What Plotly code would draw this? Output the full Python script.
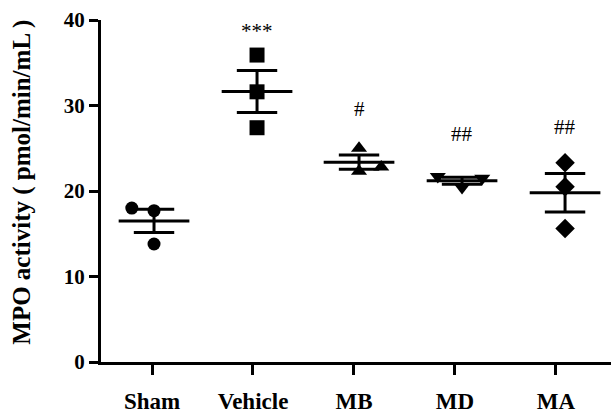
import numpy as np
import plotly.graph_objects as go

# ---- data ----
categories = ["Sham", "Vehicle", "MB", "MD", "MA"]
sham = [18.0, 17.7, 13.8]
vehicle = [35.9, 31.6, 27.4]
mb = [25.0, 22.8, 22.3]
md = [21.7, 20.4, 21.5]
ma = [23.3, 20.5, 15.6]
groups = [sham, vehicle, mb, md, ma]

# horizontal scatter of points within each group (category units)
jitter = [[-0.22, 0.0, 0.0], [0.0, 0.0, 0.0], [0.0, 0.22, 0.0], [-0.24, 0.0, 0.2], [0.0, 0.0, 0.0]]
group_shift = [0.02, 0.04, 0.05, 0.07, 0.09]
symbols = ["circle", "square", "triangle-up", "triangle-down", "diamond"]
sizes = [13, 15, 14, 14, 15]

sig_text = ["", "***", "#", "##", "##"]
sig_y = [None, 38.7, 29.6, 26.7, 27.5]

y_ticks = [0, 10, 20, 30, 40]

FONT = "Liberation Serif, Times New Roman, serif"

fig = go.Figure()

for i, vals in enumerate(groups):
    c = i + group_shift[i]
    v = np.array(vals, dtype=float)
    m = v.mean()
    sem = v.std(ddof=1) / np.sqrt(len(v))
    # points
    fig.add_trace(go.Scatter(
        x=[c + j for j in jitter[i]], y=vals, mode="markers",
        marker=dict(symbol=symbols[i], size=sizes[i], color="black",
                    line=dict(width=0)),
        showlegend=False, hoverinfo="y"))
    # mean line
    fig.add_trace(go.Scatter(
        x=[c - 0.35, c + 0.35], y=[m, m], mode="lines",
        line=dict(color="black", width=3), showlegend=False, hoverinfo="skip"))
    # SEM bar with caps
    fig.add_trace(go.Scatter(
        x=[c, c, None, c - 0.2, c + 0.2, None, c - 0.2, c + 0.2],
        y=[m - sem, m + sem, None, m + sem, m + sem, None, m - sem, m - sem],
        mode="lines", line=dict(color="black", width=3),
        showlegend=False, hoverinfo="skip"))
    if sig_text[i]:
        fig.add_annotation(x=c, y=sig_y[i], text=sig_text[i], showarrow=False,
                           font=dict(family=FONT, size=21, color="black"),
                           xanchor="center", yanchor="middle")

fig.add_annotation(
    xref="paper", yref="paper", x=-0.155, y=0.527,
    text="<b>MPO activity ( pmol/min/mL )</b>", textangle=-90, showarrow=False,
    font=dict(family=FONT, size=25, color="black"),
    xanchor="center", yanchor="middle")

fig.update_layout(
    width=611, height=414,
    margin=dict(l=101, r=0, t=20, b=52),
    paper_bgcolor="white", plot_bgcolor="white",
    xaxis=dict(
        range=[-0.505, 4.545], tickvals=list(range(len(categories))),
        ticktext=["<b>%s</b>" % c for c in categories],
        showline=True, linecolor="black", linewidth=3,
        ticks="outside", ticklen=10, tickwidth=3, tickcolor="black",
        tickfont=dict(family=FONT, size=23, color="black"),
        ticklabelstandoff=6,
        showgrid=False, zeroline=False),
    yaxis=dict(
        range=[0, 40], tickvals=y_ticks,
        ticktext=["<b>%d</b>" % t for t in y_ticks],
        showline=True, linecolor="black", linewidth=3,
        ticks="outside", ticklen=9, tickwidth=3, tickcolor="black",
        tickfont=dict(family=FONT, size=21, color="black"),
        showgrid=False, zeroline=False),
)

fig.write_html("out.html")
